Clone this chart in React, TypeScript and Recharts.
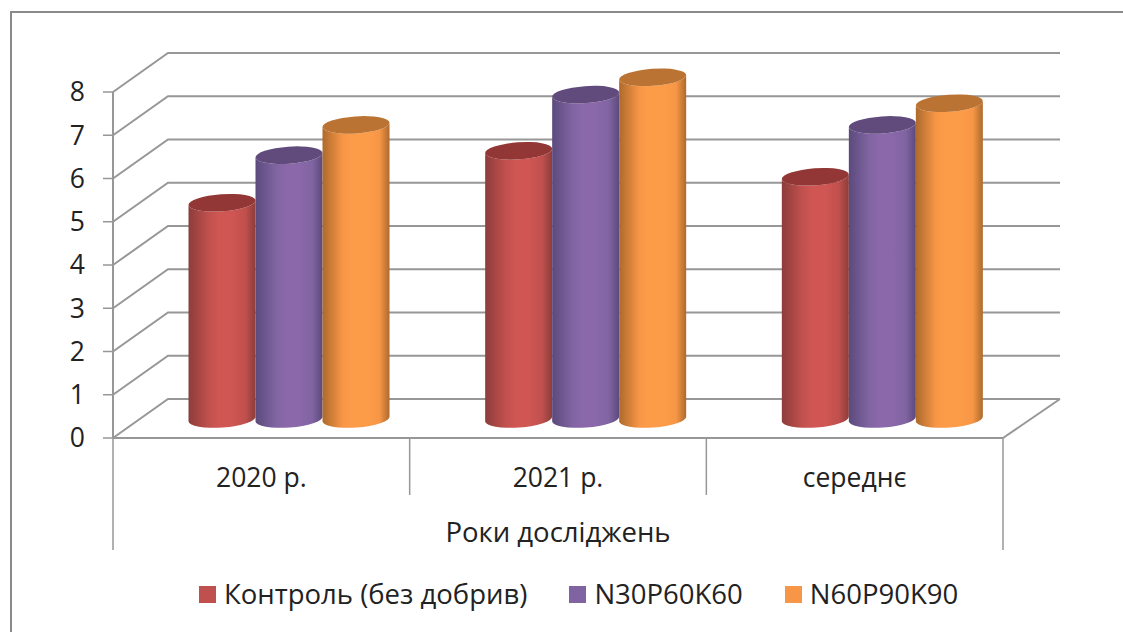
import { Bar, BarChart, CartesianGrid, Legend, XAxis, YAxis } from "recharts";

const years = ["2020 р.", "2021 р.", "середнє"];
const control = [5.0, 6.2, 5.6];
const n30 = [6.1, 7.5, 6.8];
const n60 = [6.8, 7.9, 7.3];
const yTicks = [0, 1, 2, 3, 4, 5, 6, 7, 8];

const seriesKeys = ["control", "n30", "n60"];
const seriesNames = ["Контроль (без добрив)", "N30P60K60", "N60P90K90"];
const baseColors = ["#c0504d", "#8064a2", "#f79646"];
const lightColors = ["#cf5653", "#8a68aa", "#fd9c48"];
const sideColors = ["#8c3d3b", "#5b4a7c", "#ad6a2c"];
const topColors = ["#923735", "#614b7c", "#ba7333"];

const data = years.map((year, i) => ({
  year,
  control: control[i],
  n30: n30[i],
  n60: n60[i],
}));

const FONT = "'Open Sans', sans-serif";
const TICK_SIZE = 26.5;
const LABEL_SIZE = 27.5;
const TEXT = "#222222";
const LINE = "#979797";

// plot box and the 3D depth of the back wall
const PLOT_LEFT = 113;
const PLOT_RIGHT = 1003;
const DEPTH_X = 55;
const DEPTH_Y = 39;
const BAND = (PLOT_RIGHT - PLOT_LEFT) / years.length;

// Cylinders stand halfway between the front edge and the back wall
const BAR_DX = 27.5;
const BAR_DY = 19;
const TILT = 2.4;

function Cylinder(props: any) {
  const { x, y, width, height, index } = props;
  const left = x + BAR_DX;
  const right = left + width;
  const top = y - BAR_DY;
  const bottom = y + height - BAR_DY;
  const rx = width / 2;
  const ry = 8.5;
  const arc = `A ${rx} ${ry} -4`;
  return (
    <g>
      <path
        d={`M ${left} ${top + TILT} L ${left} ${bottom + TILT} ${arc} 0 0 ${right} ${bottom - TILT} L ${right} ${top - TILT} ${arc} 0 1 ${left} ${top + TILT} Z`}
        fill={`url(#cyl-${index})`}
      />
      <path
        d={`M ${left} ${top + TILT} ${arc} 0 1 ${right} ${top - TILT} ${arc} 0 1 ${left} ${top + TILT} Z`}
        fill={topColors[index]}
      />
    </g>
  );
}

// One grid line runs up the side wall and then along the back wall
function WallLine(props: any) {
  const { x1, x2, y1, index } = props;
  const backY = y1 - DEPTH_Y;
  return (
    <g key={`wall-${index}`} fill="none" stroke={LINE} strokeWidth={2}>
      <polyline
        points={`${x1},${y1} ${x1 + DEPTH_X},${backY} ${x2 + DEPTH_X + 2},${backY}`}
      />
      {index === 0 && (
        <line x1={x2} y1={y1} x2={x2 + DEPTH_X + 2} y2={backY} />
      )}
    </g>
  );
}

function CategoryTick(props: any) {
  const { x, y, payload, index } = props;
  const axisY = y - 8;
  const leftX = x - BAND / 2;
  const rightX = x + BAND / 2;
  return (
    <g>
      <line
        x1={leftX}
        y1={axisY}
        x2={leftX}
        y2={axisY + (index === 0 ? 112 : 57)}
        stroke={LINE}
        strokeWidth={1.5}
      />
      {index === years.length - 1 && (
        <line
          x1={rightX}
          y1={axisY}
          x2={rightX}
          y2={axisY + 112}
          stroke={LINE}
          strokeWidth={1.5}
        />
      )}
      <text
        x={x}
        y={axisY + 49}
        textAnchor="middle"
        fontSize={TICK_SIZE}
        fontFamily={FONT}
        fill={TEXT}
      >
        {payload.value}
      </text>
    </g>
  );
}

function LegendRow({ payload }: any) {
  return (
    <div
      style={{
        position: "absolute",
        left: 199,
        bottom: 0,
        display: "flex",
        alignItems: "center",
        fontFamily: FONT,
        fontSize: LABEL_SIZE,
        lineHeight: "34px",
        color: TEXT,
        whiteSpace: "nowrap",
      }}
    >
      {(payload || []).map((entry: any) => (
        <span
          key={entry.value}
          style={{ display: "flex", alignItems: "center", marginRight: 42 }}
        >
          <span
            style={{
              width: 17,
              height: 17,
              marginRight: 8,
              background: entry.color,
            }}
          />
          {entry.value}
        </span>
      ))}
    </div>
  );
}

export default function App() {
  return (
    <div
      style={{
        position: "absolute",
        left: 0,
        top: 0,
        width: 1123,
        height: 632,
        overflow: "hidden",
        background: "#fff",
      }}
    >
      {/* chart frame, its right and bottom sides are cut off by the page */}
      <div
        style={{
          position: "absolute",
          left: 10,
          top: 11,
          width: 1200,
          height: 700,
          border: "2px solid #8a8a8a",
        }}
      />
      <BarChart
        width={1123}
        height={632}
        data={data}
        barSize={67}
        barGap={0}
        margin={{ top: 92, right: 120, bottom: 21, left: 53 }}
        style={{ position: "absolute", left: 0, top: 0 }}
      >
        <defs>
          {baseColors.map((color, i) => (
            <linearGradient key={color} id={`cyl-${i}`} x1="0" y1="0" x2="1" y2="0">
              <stop offset="0" stopColor={sideColors[i]} />
              <stop offset="0.3" stopColor={color} />
              <stop offset="0.45" stopColor={lightColors[i]} />
              <stop offset="0.65" stopColor={lightColors[i]} />
              <stop offset="0.85" stopColor={color} />
              <stop offset="1" stopColor={sideColors[i]} />
            </linearGradient>
          ))}
        </defs>
        <CartesianGrid vertical={false} horizontal={WallLine} />
        <XAxis
          dataKey="year"
          height={112}
          interval={0}
          tickLine={false}
          tick={CategoryTick}
          axisLine={{ stroke: LINE, strokeWidth: 2 }}
          label={() => (
            <text
              x={(PLOT_LEFT + PLOT_RIGHT) / 2}
              y={542}
              textAnchor="middle"
              fontSize={LABEL_SIZE}
              fontFamily={FONT}
              fill={TEXT}
            >
              Роки досліджень
            </text>
          )}
        />
        <YAxis
          width={60}
          domain={[0, 8]}
          ticks={yTicks}
          interval={0}
          tickSize={10}
          tickMargin={18}
          tick={{ fontSize: TICK_SIZE, fontFamily: FONT, fill: TEXT }}
          tickLine={{ stroke: LINE, strokeWidth: 1.5 }}
          axisLine={{ stroke: LINE, strokeWidth: 2 }}
        />
        <Legend
          content={LegendRow}
          itemSorter={null}
          wrapperStyle={{ height: 61, width: 1123, left: 0 }}
        />
        {seriesKeys.map((key, i) => (
          <Bar
            key={key}
            dataKey={key}
            name={seriesNames[i]}
            fill={baseColors[i]}
            isAnimationActive={false}
            shape={(p: any) => <Cylinder {...p} index={i} />}
          />
        ))}
      </BarChart>
    </div>
  );
}
